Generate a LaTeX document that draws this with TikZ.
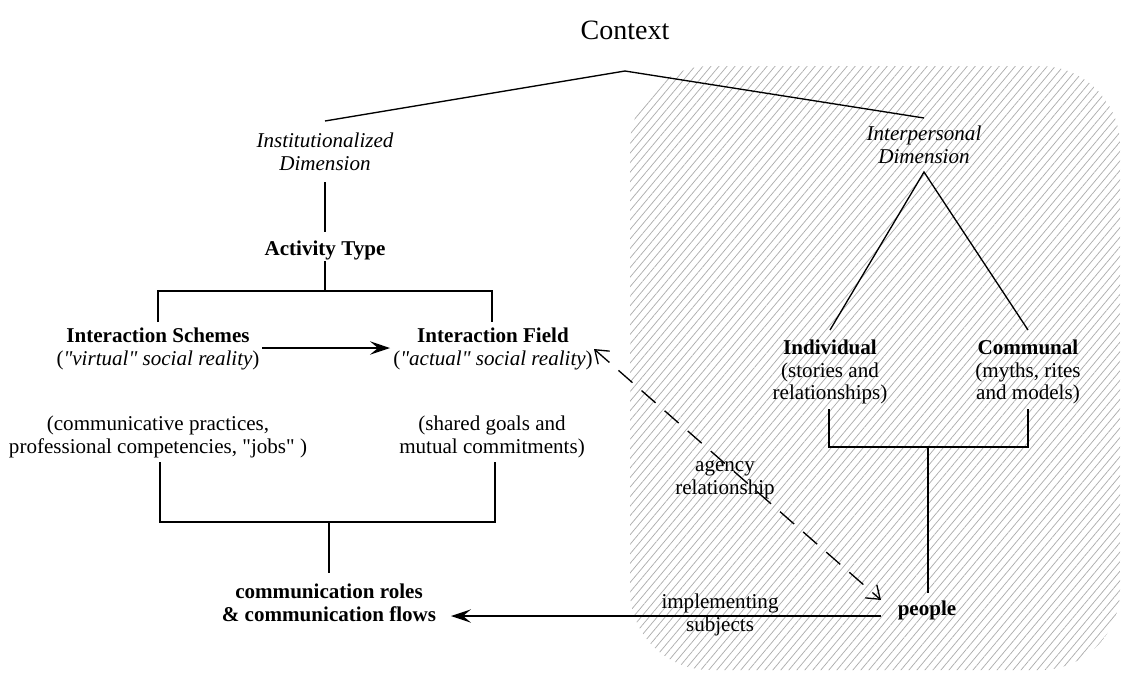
\documentclass[tikz,border=0pt]{standalone}
\usepackage{fontspec}
\setmainfont{Liberation Serif}[Ligatures=TeXOff]
\usetikzlibrary{arrows.meta,patterns.meta}
\begin{document}
\begin{tikzpicture}[x=0.75pt,y=-0.75pt,
  txt/.style={font=\fontsize{15.8}{17}\selectfont, align=center, inner sep=0pt},
  bold/.style={txt, font=\fontsize{15.8}{17}\selectfont\bfseries},
  ital/.style={txt, font=\fontsize{15.8}{17}\selectfont\itshape},
  conn/.style={line width=1pt, black},
  solidarrow/.style={conn, -{Stealth[length=15pt,width=10pt,inset=6pt]}},
  dasharrow/.style={conn, dash pattern=on 14pt off 9pt,
     {Straight Barb[length=9pt,width=13pt]}-{Straight Barb[length=9pt,width=13pt]}}
]
\useasboundingbox (0,0) rectangle (1123,675);
% hatched interpersonal area
\fill[pattern={Lines[angle=50,distance=4.6pt,line width=0.55pt]}, pattern color=black!32,
  rounded corners=60pt] (630,66) rectangle (1120,670);

% texts
\node[txt, font=\fontsize{21}{24}\selectfont] (ctx) at (625,30) {Context};
\coordinate (apex) at (625,71);
\node[ital] (inst) at (325,152) {Institutionalized\\Dimension};
\node[ital] (inter) at (924,145) {Interpersonal\\Dimension};
\node[bold] (act) at (325,250) {Activity Type};
\node[txt] (schemes) at (158,349) {\textbf{Interaction Schemes}\\(\textit{"virtual" social reality})};
\node[txt] (field) at (493,349) {\textbf{Interaction Field}\\(\textit{"actual" social reality})};
\node[txt] (comm) at (158,437) {(communicative practices,\\professional competencies, "jobs" )};
\node[txt] (shared) at (492,437) {(shared goals and\\mutual commitments)};
\node[txt] (roles) at (329,603) {\textbf{communication roles}\\\textbf{\& communication flows}};
\node[txt] (indiv) at (830,372) {\textbf{Individual}\\(stories and\\relationships)};
\node[txt] (communal) at (1028,372) {\textbf{Communal}\\(myths, rites\\and models)};
\node[bold] (people) at (927,610) {people};
\node[txt] (agency) at (725,480) {agency\\relationship};
\node[txt] (impl) at (720,615) {implementing\\subjects};

% coordinates
\coordinate (instT) at (325,121);
\coordinate (interT) at (924,118);
\coordinate (instB) at (325,182);
\coordinate (actT) at (325,232);
\coordinate (actB) at (325,261);
\coordinate (brA) at (325,291);
\coordinate (brL) at (158,291);
\coordinate (brR) at (492,291);
\coordinate (schT) at (158,322);
\coordinate (fldT) at (492,322);
\coordinate (arrS) at (262,348);
\coordinate (arrE) at (390,348);
\coordinate (commB) at (160,462);
\coordinate (sharedB) at (495,462);
\coordinate (lbL) at (160,522);
\coordinate (lbR) at (495,522);
\coordinate (lbM) at (329,522);
\coordinate (rolesT) at (329,573);
\coordinate (interB) at (924,172);
\coordinate (indT) at (830,330);
\coordinate (comT) at (1028,330);
\coordinate (indB) at (829,409);
\coordinate (comB) at (1028,409);
\coordinate (rbL) at (829,447);
\coordinate (rbR) at (1028,447);
\coordinate (rbM) at (928,447);
\coordinate (peopleT) at (928,593);
\coordinate (implS) at (881,616);
\coordinate (implE) at (451,616);
\coordinate (agS) at (594,349);
\coordinate (agE) at (881,600);

% connectors
\draw[conn] (instT) -- (apex) -- (interT);
\draw[conn] (instB) -- (actT);
\draw[conn] (actB) -- (brA);
\draw[conn] (schT) -- (brL) -- (brR) -- (fldT);
\draw[solidarrow] (arrS) -- (arrE);
\draw[conn] (commB) -- (lbL) -- (lbR) -- (sharedB);
\draw[conn] (lbM) -- (rolesT);
\draw[conn] (indT) -- (interB) -- (comT);
\draw[conn] (indB) -- (rbL) -- (rbR) -- (comB);
\draw[conn] (rbM) -- (peopleT);
\draw[solidarrow] (implS) -- (implE);
\draw[dasharrow] (agS) -- (agE);
\end{tikzpicture}
\end{document}
